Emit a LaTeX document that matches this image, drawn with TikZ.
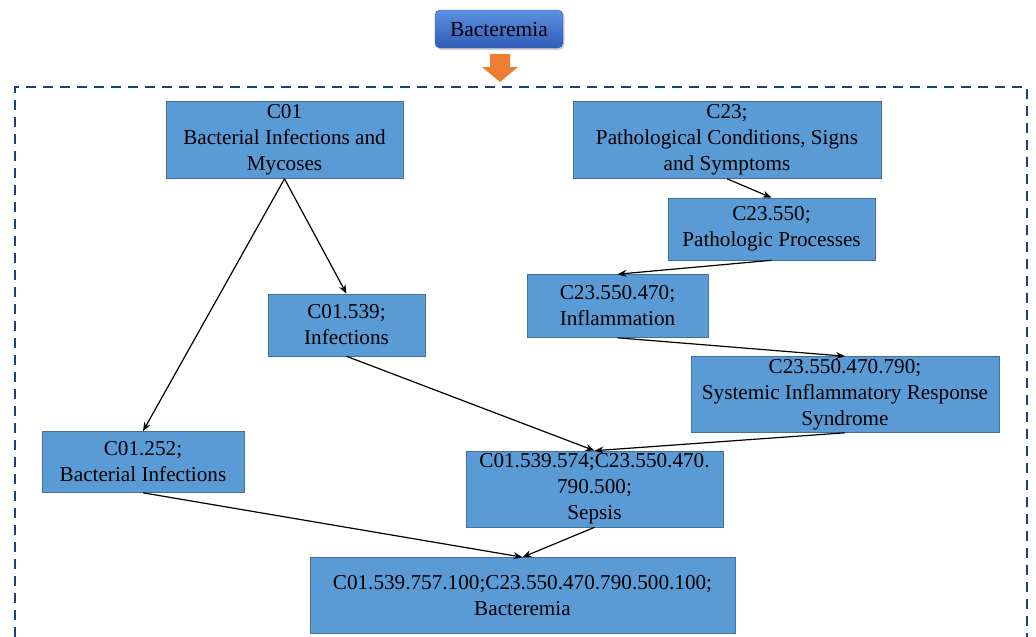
\documentclass[tikz,border=0pt]{standalone}
\usepackage{fontspec}
\setmainfont{Liberation Serif}
\usetikzlibrary{shadows, arrows.meta}
\definecolor{meshblue}{HTML}{5B9BD5}
\definecolor{meshedge}{HTML}{41719C}
\definecolor{framedash}{HTML}{203F7F}
\definecolor{termtop}{HTML}{5C8FE0}
\definecolor{termbot}{HTML}{2F5DB8}
\definecolor{downarrow}{HTML}{ED7D31}
\tikzset{
  meshbox/.style={draw=meshedge, fill=meshblue, line width=0.6pt, inner sep=0pt, align=center,
    font=\fontsize{21.2}{26}\selectfont},
  termbox/.style={draw=termbot, rounded corners=5pt, top color=termtop, bottom color=termbot,
    drop shadow={opacity=0.35, shadow xshift=1.5pt, shadow yshift=-2pt},
    minimum width=128pt, minimum height=38pt, font=\fontsize{21.5}{22}\selectfont},
  link/.style={-{Stealth[length=9pt, width=7pt]}, line width=1.2pt}
}
\begin{document}
\begin{tikzpicture}[x=1pt, y=-1pt]
            \useasboundingbox (0, 0) rectangle (1036, 637);
            \node[termbox] (top) at (499, 29) {Bacteremia};
            \fill[downarrow] (490, 54) -- (510, 54) -- (510, 67) -- (518, 67) -- (500, 82) -- (482, 67) -- (490, 67) -- cycle;
            \draw[framedash, line width=2.2pt, dash pattern=on 10pt off 7pt] (15, 637) -- (15, 87) -- (1027, 87) -- (1027, 637);
            \node[meshbox, minimum width=237pt, minimum height=77pt] (c01) at (284.5, 140) {C01\\Bacterial Infections and\\Mycoses};
            \node[meshbox, minimum width=308pt, minimum height=77pt] (c23) at (727, 140) {C23;\\Pathological Conditions, Signs\\and Symptoms};
            \node[meshbox, minimum width=207pt, minimum height=62pt] (c23a) at (771.5, 229) {C23.550;\\Pathologic Processes};
            \node[meshbox, minimum width=181pt, minimum height=63pt] (c23b) at (617.5, 306) {C23.550.470;\\Inflammation};
            \node[meshbox, minimum width=157pt, minimum height=62pt] (c01b) at (346.5, 325) {C01.539;\\Infections};
            \node[meshbox, minimum width=308pt, minimum height=76pt] (c23c) at (845, 394.5) {C23.550.470.790;\\Systemic Inflammatory Response\\Syndrome};
            \node[meshbox, minimum width=202pt, minimum height=61pt] (c01a) at (143, 462) {C01.252;\\Bacterial Infections};
            \node[meshbox, minimum width=257pt, minimum height=76pt] (sepsis) at (594.5, 489) {C01.539.574;C23.550.470.\\790.500;\\Sepsis};
            \node[meshbox, minimum width=425pt, minimum height=76pt] (bact) at (522.5, 595.5) {C01.539.757.100;C23.550.470.790.500.100;\\Bacteremia};
            \draw[link] (c01.south) -- (c01a.north);
            \draw[link] (c01.south) -- (c01b.north);
            \draw[link] (c23.south) -- (c23a.north);
            \draw[link] (c23a.south) -- (c23b.north);
            \draw[link] (c23b.south) -- (c23c.north);
            \draw[link] (c01b.south) -- (sepsis.north);
            \draw[link] (c23c.south) -- (sepsis.north);
            \draw[link] (c01a.south) -- (bact.north);
            \draw[link] (sepsis.south) -- (bact.north);
\end{tikzpicture}
\end{document}
